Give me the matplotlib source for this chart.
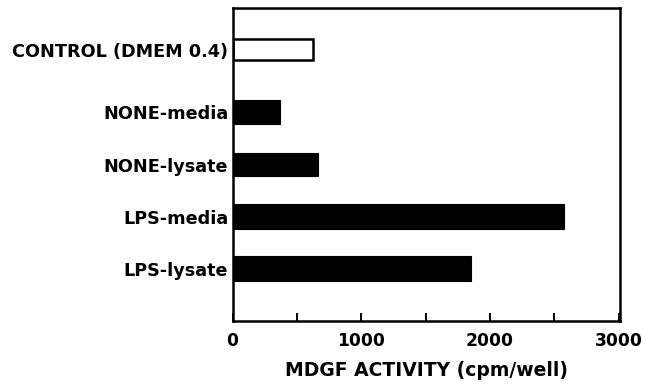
import matplotlib
matplotlib.use("Agg")
import matplotlib.pyplot as plt
from matplotlib.ticker import MultipleLocator

categories = ["CONTROL (DMEM 0.4)", "NONE-media", "NONE-lysate", "LPS-media", "LPS-lysate"]
values = [627, 368, 666, 2572, 1856]
fills = ["white", "black", "black", "black", "black"]
xtick_vals = [0, 1000, 2000, 3000]
xtick_labels = ["0", "1000", "2000", "3000"]
xlabel = "MDGF ACTIVITY (cpm/well)"

positions = [4.2, 3, 2, 1, 0]
heights = [0.41, 0.46, 0.46, 0.48, 0.48]

plt.rcParams['font.family'] = ['DejaVu Sans']
fw = 'bold'

fig = plt.figure(figsize=(6.46, 3.89), dpi=100)
ax = fig.add_axes([232.5/646, 1-321/389, (620-232.5)/646, (321-8)/389])

for p, v, f, h in zip(positions, values, fills, heights):
    ax.barh(p, v, height=h, color=f, edgecolor='black', linewidth=1.8 if f == 'white' else 0.8)

ax.set_xlim(0, 3010)
ax.set_ylim(-1.0, 5.0)
ax.set_yticks(positions)
ax.set_yticklabels(categories, fontsize=12.7, fontweight=fw)
ax.tick_params(axis='y', length=0, pad=3)
ax.set_xticks(xtick_vals)
ax.set_xticklabels(xtick_labels, fontsize=12.3, fontweight=fw)
ax.xaxis.set_minor_locator(MultipleLocator(500))
ax.tick_params(axis='x', which='both', direction='in', length=6, width=1.4, pad=8)
ax.set_xlabel(xlabel, fontsize=13.5, fontweight=fw, labelpad=8)
for s in ax.spines.values():
    s.set_linewidth(1.8)

fig.savefig("out.png", dpi=100)
